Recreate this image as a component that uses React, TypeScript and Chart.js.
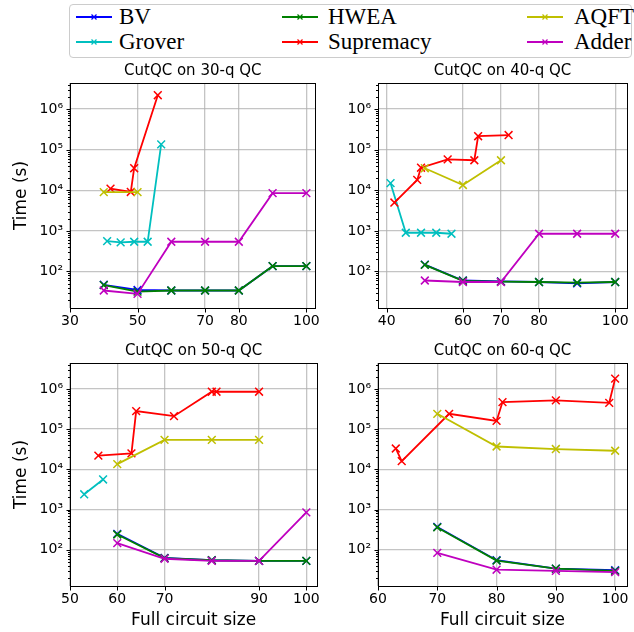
import React, { useEffect, useRef } from 'react';
import { Chart, registerables } from 'chart.js';

Chart.register(...registerables);

// ---------- data ----------
const SERIES_NAMES = ['BV', 'Grover', 'HWEA', 'Supremacy', 'AQFT', 'Adder'];
const SERIES_COLORS = ['#0000ff', '#00bfbf', '#008000', '#ff0000', '#bfbf00', '#bf00bf'];

const PANEL_TITLES = ['CutQC on 30-q QC', 'CutQC on 40-q QC', 'CutQC on 50-q QC', 'CutQC on 60-q QC'];
const X_TICKS_30 = [30, 50, 70, 80, 100];
const X_TICKS_40 = [40, 60, 70, 80, 100];
const X_TICKS_50 = [50, 60, 70, 90, 100];
const X_TICKS_60 = [60, 70, 80, 90, 100];
const Y_TICKS = [1e2, 1e3, 1e4, 1e5, 1e6];

// 30-qubit device
const q30_bv_x = [40, 50, 60, 70, 80, 90, 100];
const q30_bv_y = [47, 35, 34, 34, 34, 135, 135];
const q30_grover_x = [41, 45, 49, 53, 57];
const q30_grover_y = [560, 520, 540, 540, 135000];
const q30_hwea_x = [40, 50, 60, 70, 80, 90, 100];
const q30_hwea_y = [46, 32, 34, 34, 34, 135, 135];
const q30_supremacy_x = [42, 48, 49, 56];
const q30_supremacy_y = [11000, 9100, 35000, 2200000];
const q30_aqft_x = [40, 50];
const q30_aqft_y = [9000, 9000];
const q30_adder_x = [40, 50, 60, 70, 80, 90, 100];
const q30_adder_y = [34, 28, 540, 540, 540, 8500, 8500];

// 40-qubit device
const q40_bv_x = [50, 60, 70, 80, 90, 100];
const q40_bv_y = [148, 60, 57, 55, 51, 55];
const q40_grover_x = [41, 45, 49, 53, 57];
const q40_grover_y = [15000, 900, 900, 900, 850];
const q40_hwea_x = [50, 60, 70, 80, 90, 100];
const q40_hwea_y = [145, 59, 56, 55, 53, 55];
const q40_supremacy_x = [42, 48, 49, 56, 63, 64, 72];
const q40_supremacy_y = [5000, 18000, 36000, 58000, 55000, 215000, 230000];
const q40_aqft_x = [50, 60, 70];
const q40_aqft_y = [35000, 13500, 55000];
const q40_adder_x = [50, 60, 70, 80, 90, 100];
const q40_adder_y = [60, 55, 55, 850, 850, 850];

// 50-qubit device
const q50_bv_x = [60, 70, 80, 90, 100];
const q50_bv_y = [250, 63, 55, 53, 53];
const q50_grover_x = [53, 57];
const q50_grover_y = [2400, 5600];
const q50_hwea_x = [60, 70, 80, 90, 100];
const q50_hwea_y = [240, 62, 55, 53, 53];
const q50_supremacy_x = [56, 63, 64, 72, 80, 81, 90];
const q50_supremacy_y = [22000, 25000, 280000, 210000, 850000, 850000, 850000];
const q50_aqft_x = [60, 70, 80, 90];
const q50_aqft_y = [13500, 54000, 54000, 54000];
const q50_adder_x = [60, 70, 80, 90, 100];
const q50_adder_y = [146, 60, 53, 53, 850];

// 60-qubit device
const q60_bv_x = [70, 80, 90, 100];
const q60_bv_y = [370, 55, 34, 31];
const q60_grover_x: number[] = [];
const q60_grover_y: number[] = [];
const q60_hwea_x = [70, 80, 90, 100];
const q60_hwea_y = [360, 54, 34, 30];
const q60_supremacy_x = [63, 64, 72, 80, 81, 90, 99, 100];
const q60_supremacy_y = [33000, 16000, 240000, 160000, 470000, 520000, 450000, 1800000];
const q60_aqft_x = [70, 80, 90, 100];
const q60_aqft_y = [240000, 37000, 32000, 29000];
const q60_adder_x = [70, 80, 90, 100];
const q60_adder_y = [84, 32, 30, 28];

const Y_MIN = 12.6;
const Y_MAX = 4.4e6;

// ---------- helpers ----------
const SUP: Record<string, string> = { '0': '⁰', '1': '¹', '2': '²', '3': '³', '4': '⁴', '5': '⁵', '6': '⁶', '7': '⁷', '8': '⁸', '9': '⁹' };
const fmtPow = (v: number) => {
  const e = Math.round(Math.log10(v));
  return '10' + String(e).split('').map((c) => SUP[c] || c).join('');
};

const SANS = 'DejaVu Sans';
const GRID = 'rgba(176,176,176,0.75)';

const framePlugin = {
  id: 'frameTicks',
  afterDraw(chart: any) {
    const { ctx, chartArea: a } = chart;
    const xs = chart.scales.x;
    const ys = chart.scales.y;
    ctx.save();
    ctx.strokeStyle = '#000';
    ctx.lineWidth = 1;
    ctx.strokeRect(Math.round(a.left) + 0.5, Math.round(a.top) + 0.5, Math.round(a.right - a.left), Math.round(a.bottom - a.top));
    // x tick marks
    const xt: number[] = chart.options.plugins.frameTicks.xTicks;
    const b = Math.round(a.bottom) + 0.5;
    ctx.beginPath();
    xt.forEach((v) => {
      const px = Math.round(xs.getPixelForValue(v)) + 0.5;
      ctx.moveTo(px, b);
      ctx.lineTo(px, b + 4);
    });
    // y tick marks (major + minor)
    const l = Math.round(a.left) + 0.5;
    for (let e = 0; e <= 7; e++) {
      for (let k = 1; k <= 9; k++) {
        const v = k * Math.pow(10, e);
        if (v < Y_MIN || v > Y_MAX) continue;
        const py = Math.round(ys.getPixelForValue(v)) + 0.5;
        const len = k === 1 ? 4 : 2.5;
        ctx.moveTo(l - len, py);
        ctx.lineTo(l, py);
      }
    }
    ctx.stroke();
    // panel title centred over the axes
    ctx.fillStyle = '#000';
    ctx.font = `15px "${SANS}"`;
    ctx.textAlign = 'center';
    ctx.textBaseline = 'middle';
    ctx.fillText(chart.options.plugins.frameTicks.title, (a.left + a.right) / 2, a.top - 12);
    ctx.restore();
  },
};

type PanelProps = {
  title: string;
  xs: number[][];
  ys: number[][];
  xMin: number;
  xMax: number;
  xTicks: number[];
  left: number;
  top: number;
  width: number;
  height: number;
  yAxisWidth: number;
  xAxisHeight: number;
  padRight: number;
  showYTitle: boolean;
  showXTitle: boolean;
};

function Panel(p: PanelProps) {
  const ref = useRef<HTMLCanvasElement>(null);
  useEffect(() => {
    if (!ref.current) return;
    const datasets = SERIES_NAMES.map((name, i) => ({
      label: name,
      data: p.xs[i].map((x, j) => ({ x, y: p.ys[i][j] })),
      borderColor: SERIES_COLORS[i],
      backgroundColor: SERIES_COLORS[i],
      pointBorderColor: SERIES_COLORS[i],
      pointStyle: 'crossRot',
      pointRadius: 5.5,
      pointBorderWidth: 1.5,
      borderWidth: 1.8,
      fill: false,
      tension: 0,
      order: SERIES_NAMES.length - i,
    }));
    const chart = new Chart(ref.current, {
      type: 'line',
      data: { datasets },
      options: {
        animation: false,
        responsive: false,
        maintainAspectRatio: false,
        events: [],
        layout: { padding: { left: 0, right: p.padRight, top: 25, bottom: 0 } },
        plugins: {
          legend: { display: false },
          tooltip: { enabled: false },
          title: { display: false },
          // @ts-ignore
          frameTicks: { xTicks: p.xTicks, title: p.title },
        },
        scales: {
          x: {
            type: 'linear',
            min: p.xMin,
            max: p.xMax,
            afterBuildTicks: (s: any) => {
              s.ticks = p.xTicks.map((v) => ({ value: v }));
            },
            afterFit: (s: any) => {
              s.height = p.xAxisHeight;
            },
            grid: { color: GRID, lineWidth: 1.3, drawTicks: false },
            border: { display: false },
            ticks: {
              autoSkip: false,
              maxRotation: 0,
              padding: 5,
              color: '#000',
              font: { family: SANS, size: 14 },
              callback: (v: any) => String(v),
            },
            title: {
              display: p.showXTitle,
              text: 'Full circuit size',
              color: '#000',
              font: { family: SANS, size: 17 },
              padding: { top: 0, bottom: 1 },
            },
          },
          y: {
            type: 'logarithmic',
            min: Y_MIN,
            max: Y_MAX,
            afterBuildTicks: (s: any) => {
              s.ticks = Y_TICKS.map((v) => ({ value: v, major: true }));
            },
            afterFit: (s: any) => {
              s.width = p.yAxisWidth;
            },
            grid: { color: GRID, lineWidth: 1.3, drawTicks: false },
            border: { display: false },
            ticks: {
              autoSkip: false,
              padding: 7,
              color: '#000',
              font: { family: SANS, size: 14 },
              callback: (v: any) => fmtPow(Number(v)),
            },
            title: {
              display: p.showYTitle,
              text: 'Time (s)',
              color: '#000',
              font: { family: SANS, size: 17 },
              padding: { top: 11, bottom: 0 },
            },
          },
        },
      } as any,
      plugins: [framePlugin],
    });
    return () => chart.destroy();
  }, []);
  return (
    <canvas
      ref={ref}
      width={p.width}
      height={p.height}
      style={{ position: 'absolute', left: p.left, top: p.top, width: p.width, height: p.height }}
    />
  );
}

function Legend() {
  const lineX = [76, 282, 527];
  const textX = [119, 328, 574];
  const rowY = [17, 42];
  return (
    <>
      <div
        style={{
          position: 'absolute',
          left: 69,
          top: 4,
          width: 563,
          height: 54,
          border: '1px solid #cccccc',
          borderRadius: 4,
          boxSizing: 'border-box',
          background: 'rgba(255,255,255,0.8)',
        }}
      />
      {SERIES_NAMES.map((name, i) => {
        const col = Math.floor(i / 2);
        const row = i % 2;
        const c = SERIES_COLORS[i];
        const cy = rowY[row];
        return (
          <React.Fragment key={name}>
            <svg
              width={36}
              height={12}
              style={{ position: 'absolute', left: lineX[col], top: cy - 6 }}
            >
              <line x1={0} y1={6} x2={36} y2={6} stroke={c} strokeWidth={1.8} />
              <line x1={15.5} y1={3.5} x2={20.5} y2={8.5} stroke={c} strokeWidth={1.3} />
              <line x1={15.5} y1={8.5} x2={20.5} y2={3.5} stroke={c} strokeWidth={1.3} />
            </svg>
            <div
              style={{
                position: 'absolute',
                left: textX[col],
                top: cy - 14,
                height: 28,
                lineHeight: '28px',
                fontFamily: '"Liberation Serif", serif',
                fontSize: 23,
                color: '#000',
                whiteSpace: 'nowrap',
              }}
            >
              {name}
            </div>
          </React.Fragment>
        );
      })}
    </>
  );
}

export default function App() {
  const xs30 = [q30_bv_x, q30_grover_x, q30_hwea_x, q30_supremacy_x, q30_aqft_x, q30_adder_x];
  const ys30 = [q30_bv_y, q30_grover_y, q30_hwea_y, q30_supremacy_y, q30_aqft_y, q30_adder_y];
  const xs40 = [q40_bv_x, q40_grover_x, q40_hwea_x, q40_supremacy_x, q40_aqft_x, q40_adder_x];
  const ys40 = [q40_bv_y, q40_grover_y, q40_hwea_y, q40_supremacy_y, q40_aqft_y, q40_adder_y];
  const xs50 = [q50_bv_x, q50_grover_x, q50_hwea_x, q50_supremacy_x, q50_aqft_x, q50_adder_x];
  const ys50 = [q50_bv_y, q50_grover_y, q50_hwea_y, q50_supremacy_y, q50_aqft_y, q50_adder_y];
  const xs60 = [q60_bv_x, q60_grover_x, q60_hwea_x, q60_supremacy_x, q60_aqft_x, q60_adder_x];
  const ys60 = [q60_bv_y, q60_grover_y, q60_hwea_y, q60_supremacy_y, q60_aqft_y, q60_adder_y];

  return (
    <div style={{ position: 'fixed', left: 0, top: 0, width: 634, height: 632, background: '#fff', overflow: 'hidden' }}>
      <Legend />
      <Panel
        title={PANEL_TITLES[0]} xs={xs30} ys={ys30} xMin={30} xMax={102.7} xTicks={X_TICKS_30}
        left={0} top={58} width={325} height={275} yAxisWidth={70} xAxisHeight={25} padRight={4.5}
        showYTitle={true} showXTitle={false}
      />
      <Panel
        title={PANEL_TITLES[1]} xs={xs40} ys={ys40} xMin={37.7} xMax={103.1} xTicks={X_TICKS_40}
        left={325} top={58} width={309} height={275} yAxisWidth={53} xAxisHeight={25} padRight={4}
        showYTitle={false} showXTitle={false}
      />
      <Panel
        title={PANEL_TITLES[2]} xs={xs50} ys={ys50} xMin={50} xMax={102.3} xTicks={X_TICKS_50}
        left={0} top={338} width={325} height={294} yAxisWidth={70} xAxisHeight={46} padRight={4.5}
        showYTitle={true} showXTitle={true}
      />
      <Panel
        title={PANEL_TITLES[3]} xs={xs60} ys={ys60} xMin={60} xMax={102} xTicks={X_TICKS_60}
        left={325} top={338} width={309} height={294} yAxisWidth={53} xAxisHeight={46} padRight={4}
        showYTitle={false} showXTitle={true}
      />
    </div>
  );
}
